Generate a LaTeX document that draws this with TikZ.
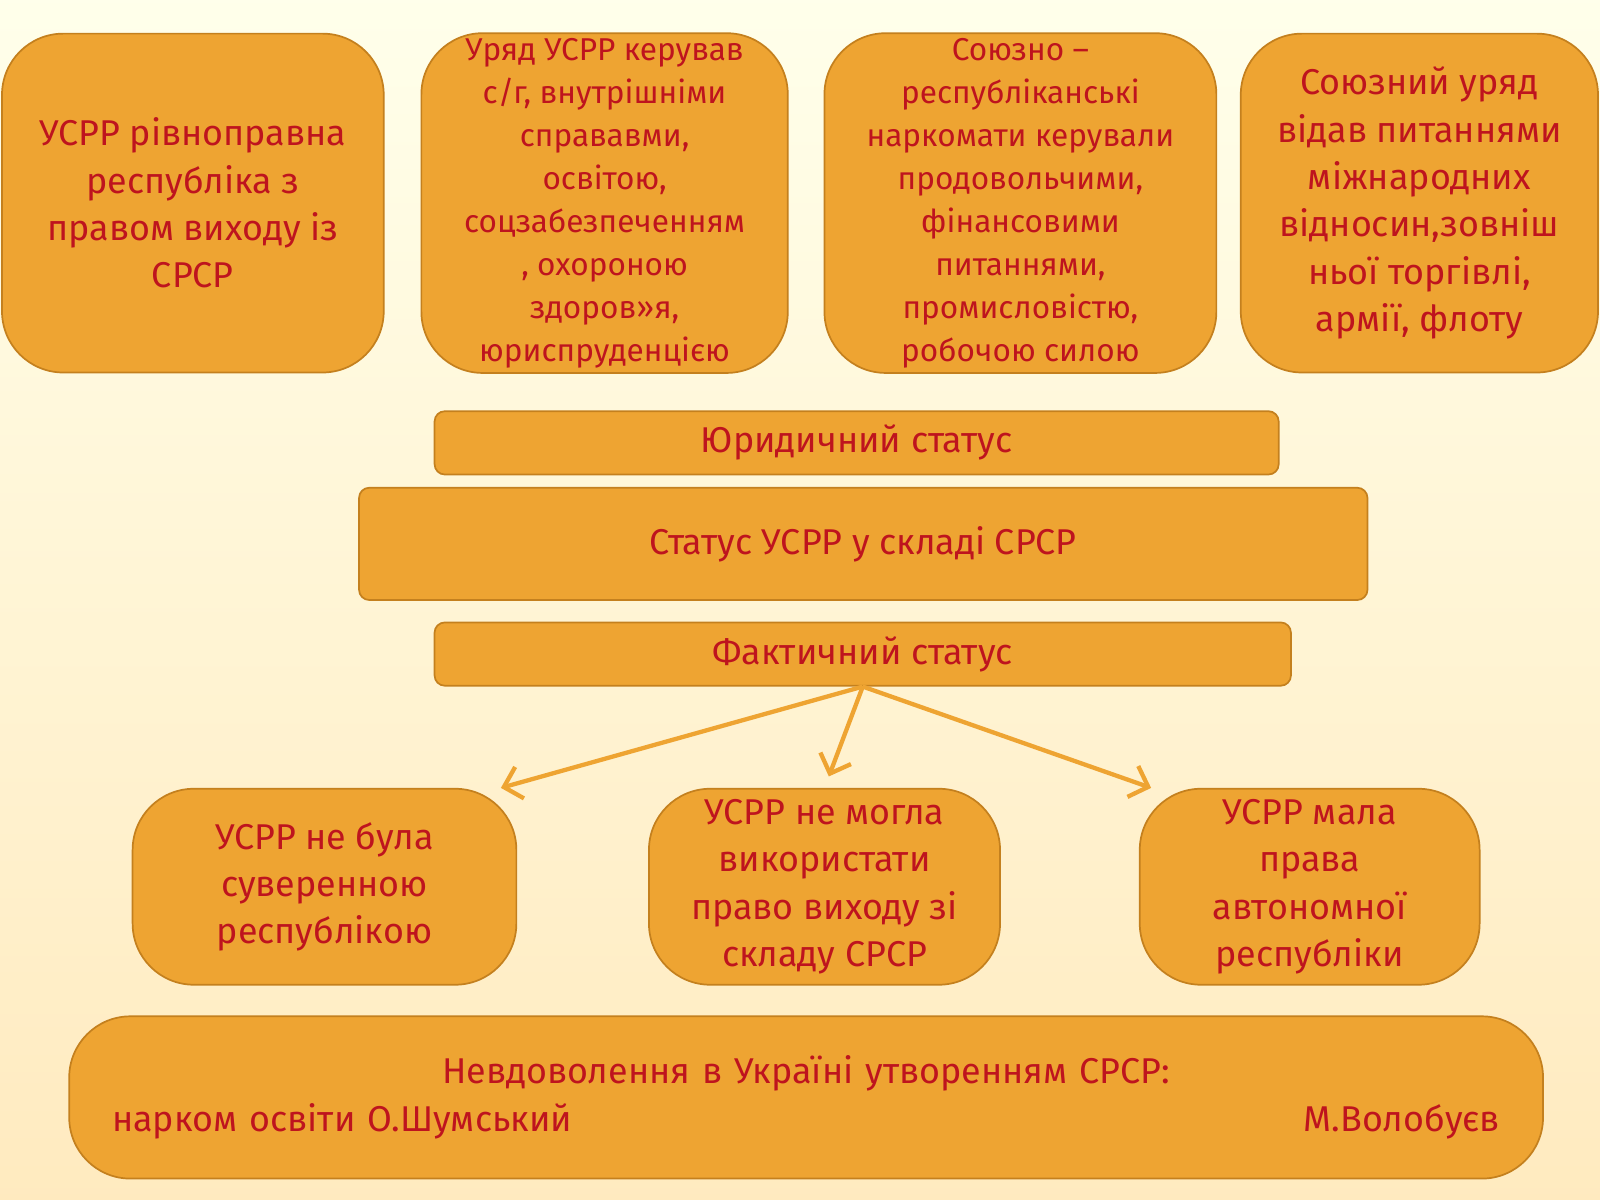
\documentclass[tikz,border=0pt]{standalone}
\usepackage{fontspec}
\setmainfont{Fira Sans}
\usetikzlibrary{positioning, arrows.meta, calc}
\definecolor{boxfill}{RGB}{238,164,50}
\definecolor{boxline}{RGB}{196,128,30}
\definecolor{boxtext}{RGB}{190,20,30}
\tikzset{box/.style={
    rectangle,
    rounded corners=1.5cm,
    draw=boxline,
    line width=1.2pt,
    fill=boxfill,
    text=boxtext,
    align=center,
    font=\fontsize{25}{33}\selectfont
}}
\tikzset{narrow/.style={
    box,
    font=\fontsize{22}{30}\selectfont
}}
\tikzset{bar/.style={
    box,
    rounded corners=2.5mm
}}
\begin{document}
\begin{tikzpicture}[x=0.025cm, y=-0.025cm,
    >={Straight Barb[length=4mm, width=8mm]}
]
    \shade [top color=yellow!8, bottom color=yellow!35!orange!25] (0,0) rectangle (1568,1176);
    \useasboundingbox (0,0) rectangle (1568,1176);
    % top row
    \node (legal) [box, minimum width=9.35cm, minimum height=8.3cm] at (189,199)
        {УСРР рівноправна\\республіка з\\правом виходу із\\СРСР};
    \node (gov) [narrow, minimum width=8.975cm, minimum height=8.3cm] at (592.5,199)
        {Уряд УСРР керував\\с/г, внутрішніми\\справавми,\\освітою,\\соцзабезпеченням\\, охороною\\здоров»я,\\юриспруденцією};
    \node (union) [narrow, minimum width=9.6cm, minimum height=8.3cm] at (1000,199)
        {Союзно –\\республіканські\\наркомати керували\\продовольчими,\\фінансовими\\питаннями,\\промисловістю,\\робочою силою};
    \node (central) [box, minimum width=8.75cm, minimum height=8.3cm] at (1391,199)
        {Союзний уряд\\відав питаннями\\міжнародних\\відносин,зовніш\\ньої торгівлі,\\армії, флоту};
    % middle bars
    \node (jur) [bar, minimum width=20.675cm, minimum height=1.55cm] at (839.5,434) {Юридичний статус};
    \node (status) [bar, minimum width=24.7cm, minimum height=2.75cm] at (846,533) {Статус УСРР у складі СРСР};
    \node (fact) [bar, minimum width=20.975cm, minimum height=1.55cm] at (845.5,641) {Фактичний статус};
    % lower row
    \node (sov) [box, minimum width=9.4cm, minimum height=4.8cm] at (318,869)
        {УСРР не була\\суверенною\\республікою};
    \node (exit) [box, minimum width=8.6cm, minimum height=4.8cm] at (808,869)
        {УСРР не могла\\використати\\право виходу зі\\складу СРСР};
    \node (auto) [box, minimum width=8.325cm, minimum height=4.8cm] at (1283.5,869)
        {УСРР мала\\права\\автономної\\республіки};
    \node (discont) [box, minimum width=36.1cm, minimum height=3.975cm, text width=34cm, align=left] at (790,1075.5)
        {\makebox[\linewidth][c]{Невдоволення в Україні утворенням СРСР:}\\
         нарком освіти О.Шумський\hfill М.Волобуєв};
    \draw [->, boxfill, line width=3pt] (fact.south) -- ($(sov.north east)+(-0.4cm,0)$);
    \draw [->, boxfill, line width=3pt, shorten >=0.3cm] (fact.south) -- (exit.north);
    \draw [->, boxfill, line width=3pt] (fact.south) -- ($(auto.north west)+(0.3cm,0)$);
\end{tikzpicture}
\end{document}
